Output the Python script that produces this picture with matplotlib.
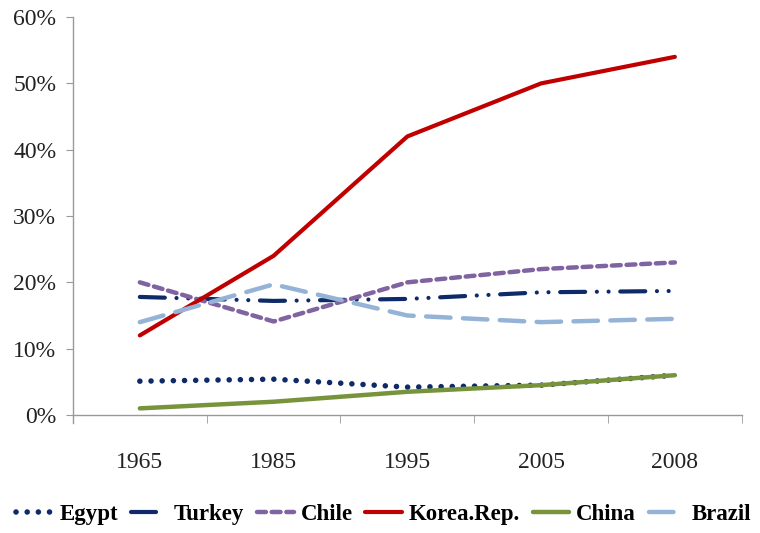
import matplotlib
matplotlib.use("Agg")
import matplotlib.pyplot as plt
from matplotlib.ticker import FixedLocator, PercentFormatter

years = ["1965", "1985", "1995", "2005", "2008"]
egypt = [5.1, 5.4, 4.2, 4.5, 6.0]
turkey = [17.8, 17.2, 17.5, 18.5, 18.7]
chile = [20.0, 14.1, 20.0, 22.0, 23.0]
korea = [12.0, 24.0, 42.0, 50.0, 54.0]
china = [1.0, 2.0, 3.5, 4.5, 6.0]
brazil = [14.0, 19.7, 15.0, 14.0, 14.5]

fig = plt.figure(figsize=(7.6, 5.33), dpi=100)
ax = fig.add_axes([0.096, 0.2214, 0.88, 0.7466])
x = list(range(len(years)))

serif = "Liberation Serif"
ax.plot(x, egypt, color="#0E2A68", lw=4.0, ls=(0, (0.01, 2.0)), dash_capstyle="round", label="Egypt")
ax.plot(x, turkey, color="#0E2A68", lw=3.0, ls=(0, (6, 2.8, 0.01, 2.8, 0.01, 2.8)), dash_capstyle="round", label="Turkey")
ax.plot(x, chile, color="#8064A2", lw=3.2, ls=(0, (2.0, 1.3)), dash_capstyle="round", label="Chile")
ax.plot(x, korea, color="#C00000", lw=3.0, solid_capstyle="round", label="Korea.Rep.")
ax.plot(x, china, color="#77933C", lw=3.2, solid_capstyle="round", label="China")
ax.plot(x, brazil, color="#95B3D7", lw=3.2, ls=(0, (5.5, 2.8)), dash_capstyle="round", label="Brazil")

ax.set_xlim(-0.5, 4.5)
ax.set_ylim(0, 60)
ax.set_yticks([0, 10, 20, 30, 40, 50, 60])
ax.yaxis.set_major_formatter(PercentFormatter(decimals=0))
ax.set_xticks(x)
ax.set_xticklabels(years)
ax.xaxis.set_minor_locator(FixedLocator([-0.5, 0.5, 1.5, 2.5, 3.5, 4.5]))

for s in ["top", "right"]:
    ax.spines[s].set_visible(False)
for s in ["left", "bottom"]:
    ax.spines[s].set_color("#999999")
    ax.spines[s].set_linewidth(1.0)
ax.spines["left"].set_bounds(-1.2, 60)

ax.tick_params(axis="y", which="major", length=5, color="#999999", pad=7,
               labelsize=17, labelcolor="#222222")
ax.tick_params(axis="x", which="major", length=0, pad=27, labelsize=17, labelcolor="#222222")
ax.tick_params(axis="x", which="minor", length=6, color="#999999", direction="out")
for lab in ax.get_xticklabels() + ax.get_yticklabels():
    lab.set_fontfamily(serif)

leg = fig.legend(loc="center", bbox_to_anchor=(0.505, 0.034), ncol=6, frameon=False,
                 prop={"family": serif, "weight": "bold", "size": 16.5},
                 handlelength=1.6, handletextpad=0.3, columnspacing=0.55,
                 borderpad=0.0, borderaxespad=0.0)

fig.savefig("out.png", dpi=100)
